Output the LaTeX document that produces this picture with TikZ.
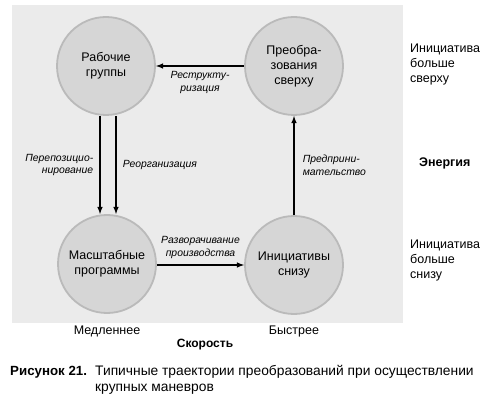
\documentclass[tikz,border=0pt]{standalone}
\usepackage{fontspec}
\setmainfont{Liberation Sans}
\usetikzlibrary{positioning}

\tikzset{
  stage/.style={circle,minimum size=98pt,inner sep=0pt,fill=black!16,draw=black!27,line width=1.8pt,align=center,font=\fontsize{12.5}{15}\selectfont},
  move/.style={line width=1.5pt,-latex},
  way/.style={font=\fontsize{10.4}{12.5}\selectfont\itshape,align=center,inner sep=1pt},
  side/.style={font=\fontsize{12.5}{15}\selectfont,align=left,anchor=west,inner sep=0pt}
}

\begin{document}
\begin{tikzpicture}[x=1pt,y=-1pt]
\useasboundingbox (0,0) rectangle (492,403);
\fill[black!8] (12,5) rectangle (403,323);

    \node[stage] (Groups) at (106,66) {Рабочие\\группы};
    \node[stage] (Above) at (294,66) {Преобра-\\зования\\сверху};
    \node[stage] (Programs) at (107,264) {Масштабные\\программы};
    \node[stage] (Below) at (294,265) {Инициативы\\снизу};

    \draw [move] (Above) -- (Groups) node [way,midway,below=4pt] {Реструкту-\\ризация};
    \draw [move] ([xshift=-6pt]Groups.south) -- ([xshift=-6pt]Groups.south |- Programs.north) node [way,midway,left=5pt,align=right] {Перепозицио-\\нирование};
    \draw [move] ([xshift=10pt]Groups.south) -- ([xshift=10pt]Groups.south |- Programs.north) node [way,midway,right=5pt] {Реорганизация};
    \draw [move] (Programs.east |- Below) -- (Below) node [way,midway,above=5pt] {Разворачивание\\производства};
    \draw [move] (Below) -- (Above) node [way,midway,right=7pt,align=left] {Предприни-\\мательство};

    \node[side] (upper) at (410,64) {Инициатива\\больше\\сверху};
    \node[side,font=\fontsize{12.5}{15}\selectfont\bfseries] (energy) at (419,163) {Энергия};
    \node[side] (lower) at (410,260) {Инициатива\\больше\\снизу};

    \node[side,anchor=center] (slow) at (107,331) {Медленнее};
    \node[side,anchor=center] (fast) at (294,331) {Быстрее};
    \node[side,anchor=center,font=\fontsize{12}{15}\selectfont\bfseries] (speed) at (205,345) {Скорость};

    \node[side,anchor=base west,font=\fontsize{13.3}{16}\selectfont\bfseries] (fig) at (10,375) {Рисунок 21.};
    \node[side,anchor=base west,font=\fontsize{13.8}{16}\selectfont] (caption) at (95,375) {Типичные траектории преобразований при осуществлении};
    \node[side,anchor=base west,font=\fontsize{13.8}{16}\selectfont] (caption2) at (95,391) {крупных маневров};
\end{tikzpicture}
\end{document}
